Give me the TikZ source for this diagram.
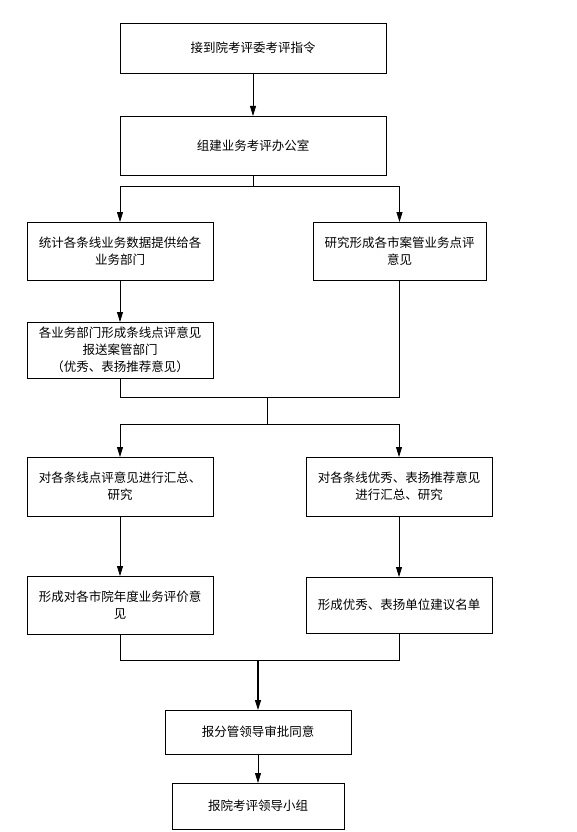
\documentclass[tikz,border=0pt]{standalone}
\usepackage{fontspec}
\setmainfont{Noto Sans CJK SC}
\usepackage{tikz}
\usetikzlibrary{arrows.meta,positioning,calc}

\begin{document}
\begin{tikzpicture}[main/.style={draw, line width=0.8pt, minimum width=186pt, inner sep=2pt, outer sep=0pt, align=center, font=\fontsize{12.5pt}{17pt}\selectfont}, arr/.style={-{Triangle[width=6pt,length=10pt]}}, line width=0.8pt]
	\useasboundingbox (0,0) rectangle (577pt,-832pt);
	\node[main, minimum width=266pt, minimum height=50pt] (1) at (253pt,-48pt) {接到院考评委考评指令};
	\node[main, minimum width=266pt, minimum height=59pt] (2) [below=43pt of 1] {组建业务考评办公室};
	\node[main, minimum height=58pt] (3) [below=47pt of 2, xshift=-133pt] {统计各条线业务数据提供给各\\业务部门};
	\node[main, minimum width=173pt, minimum height=58pt] (4) [right=100pt of 3] {研究形成各市案管业务点评\\意见};
	\node[main, minimum height=56pt] (5) [below=42pt of 3] {各业务部门形成条线点评意见\\报送案管部门\\（优秀、表扬推荐意见）};
	\node[main, minimum height=59pt] (6) [below=79pt of 5] {对各条线点评意见进行汇总、\\研究};
	\node[main, minimum height=59pt] (7) [right=93pt of 6] {对各条线优秀、表扬推荐意见\\进行汇总、研究};
	\node[main, minimum height=58pt] (8) [below=60pt of 6] {形成对各市院年度业务评价意\\见};
	\node[main, minimum height=56pt] (9) [right=93pt of 8] {形成优秀、表扬单位建议名单};
	\node[main, minimum height=44pt] (10) [below=76pt of 8, xshift=138pt] {报分管领导审批同意};
	\node[main, minimum width=172pt, minimum height=46pt] (11) [below=29pt of 10] {报院考评领导小组};
	\draw[arr] (1) -- (2);
	% split to the two branches
	\draw (2.south) -- ++(0,-11pt) coordinate (s1);
	\draw[arr] (s1) -| (3.north);
	\draw[arr] (s1) -| (4.north);
	\draw[arr] (3) -- (5);
	% merge and split again
	\draw (5.south) -- ++(0,-19pt) coordinate (m1) -| (4.south);
	\draw ($(m1)+(147pt,0)$) -- ++(0,-27pt) coordinate (s2);
	\draw[arr] (s2) -| (6.north);
	\draw[arr] (s2) -| (7.north);
	\draw[arr] (6) -- (8);
	\draw[arr] (7) -- (9);
	% final merge
	\draw (8.south) -- ++(0,-26pt) coordinate (m2) -| (9.south);
	\draw[arr, line width=1.2pt] (m2 -| 10.north) -- (10.north);
	\draw[arr] (10) -- (11);
\end{tikzpicture}
\end{document}
